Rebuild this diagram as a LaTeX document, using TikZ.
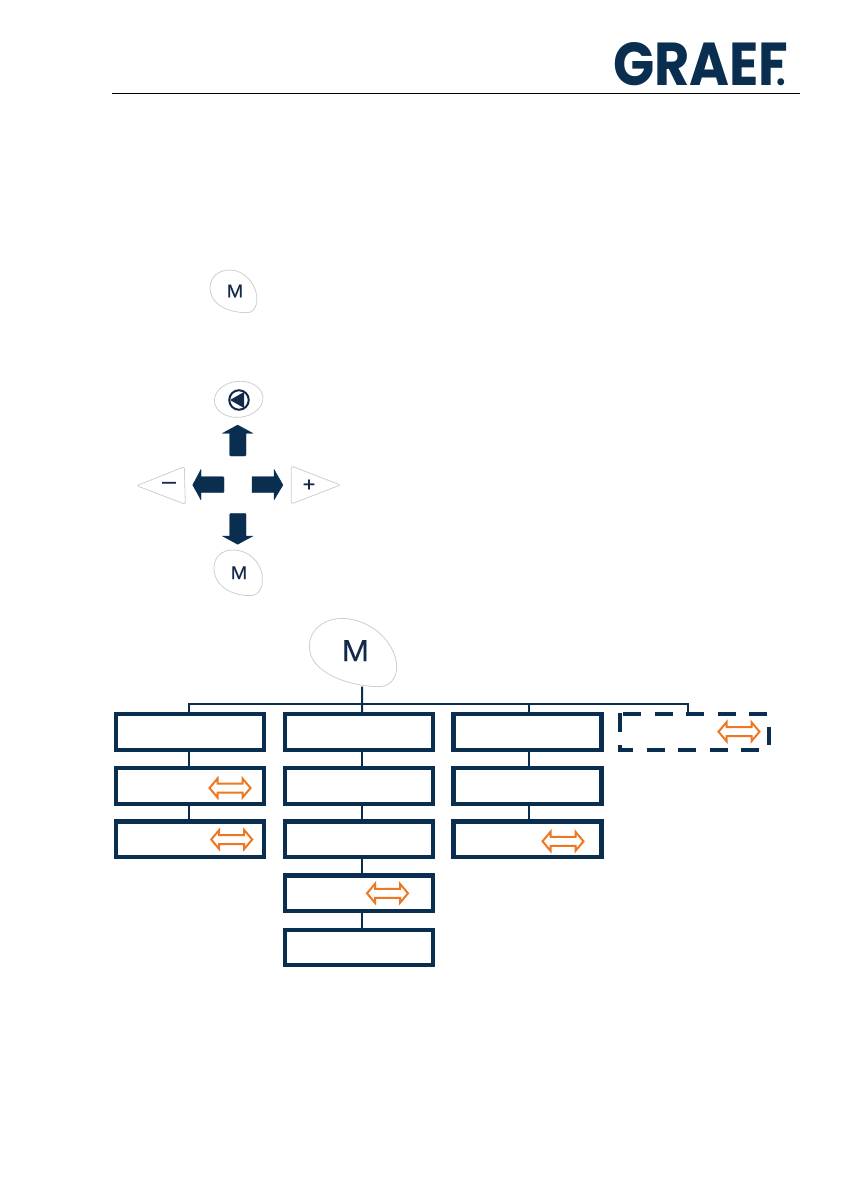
\documentclass[tikz,border=0pt]{standalone}
\usepackage{fontspec}
\setmainfont{Liberation Sans}
\newfontfamily\logofont{Poppins}
\newfontfamily\keyfont[FakeBold=0.25,FakeStretch=1.08]{Liberation Sans}
\usetikzlibrary{calc}
\definecolor{navy}{HTML}{0A2E50}
\definecolor{inkM}{HTML}{12294A}
\definecolor{keygrey}{HTML}{CFCFCF}
\definecolor{arrorange}{HTML}{F07722}
\tikzset{
  menubox/.style={draw=navy,line width=4.2pt,rectangle,minimum width=148pt,minimum height=35.5pt,inner sep=0pt,fill=white},
  dashframe/.style={rectangle,minimum width=148pt,minimum height=36pt,inner sep=0pt,outer sep=2pt},
  dashline/.style={draw=navy,line width=4pt},
  link/.style={draw=navy,line width=2pt},
  keyline/.style={draw=keygrey,line width=.8pt,fill=white},
  keytext/.style={text=inkM,inner sep=0pt,font=\keyfont\fontsize{18.5}{20}\selectfont},
  navarrow/.style={fill=navy,draw=navy,line width=.3pt,line join=round},
  swap/.style={draw=arrorange,fill=white,line width=2pt,line join=miter},
  zoomA/.style={shift={(120,260)},x=.33333pt,y=-.33333pt},
  zoomB/.style={shift={(100,610)},x=.33333pt,y=-.33333pt},
  swaparrow/.pic={\draw[swap] (-20.5,0)--(-12.5,-9.5)--(-12.5,-4.5)--(12.5,-4.5)--(12.5,-9.5)--(20.5,0)--(12.5,9.5)--(12.5,4.5)--(-12.5,4.5)--(-12.5,9.5)--cycle;}
}
\begin{document}
\begin{tikzpicture}[x=1pt,y=-1pt]
\useasboundingbox (0,0) rectangle (840,1190);
% header
\node[inner sep=0pt,text=navy] (logo) at (699.5,64.5) {\resizebox{173pt}{43pt}{\logofont\bfseries GRAEF\kern-.22em\scalebox{.62}{.}}};
\coordinate (ruleL) at (112,93.5);
\coordinate (ruleR) at (800,93.5);
\draw[black,line width=1pt] (ruleL) -- (ruleR);
% M key
\begin{scope}[zoomA]
\draw[keyline] (330,30) .. controls (372,30) and (405,70) .. (410,105) -- (410,130) .. controls (405,150) and (395,158) .. (380,158) .. controls (320,158) and (270,130) .. (270,85) .. controls (270,50) and (295,30) .. (330,30) -- cycle;
\node[keytext] (keyM1) at (345,93) {M};
% back key
\draw[keyline,rotate around={6:(356,418)}] (356,418) ellipse [x radius=73,y radius=54];
\node[circle,draw=inkM,line width=2pt,minimum size=19.5pt,inner sep=0pt] (keyBack) at (357,420) {};
\fill[inkM] (330,420) -- (372,396) -- (372,444) -- cycle;
% minus / plus keys
\draw[keyline,rounded corners=2pt] (50,677) -- (193,620) -- (196,733) -- cycle;
\node[keytext,font=\keyfont\fontsize{23}{24}\selectfont] (keyMinus) at (147,676) {–};
\draw[keyline,rounded corners=2pt] (514,618) -- (661,675) -- (514,732) -- cycle;
\node[keytext,font=\keyfont\fontsize{20}{20}\selectfont] (keyPlus) at (567,676) {+};
% second M key
\draw[keyline] (340,870) .. controls (385,870) and (420,905) .. (427,945) -- (427,970) .. controls (422,995) and (410,1007) .. (392,1007) .. controls (330,1007) and (282,975) .. (282,925) .. controls (282,890) and (305,870) .. (340,870) -- cycle;
\node[keytext] (keyM2) at (357,938) {M};
% navigation arrows
\draw[navarrow] (353,495) -- (399,520) -- (378,520) -- (378,585) -- (375,588) -- (332,588) -- (329,585) -- (329,520) -- (307,520) -- cycle;
\draw[navarrow] (353,853) -- (399,828) -- (378,828) -- (378,763) -- (375,760) -- (332,760) -- (329,763) -- (329,828) -- (307,828) -- cycle;
\draw[navarrow] (218,675) -- (243,628) -- (243,650) -- (309,650) -- (312,653) -- (312,695) -- (309,698) -- (243,698) -- (243,720) -- cycle;
\draw[navarrow] (489,675) -- (462,628) -- (462,650) -- (396,650) -- (396,698) -- (462,698) -- (462,720) -- cycle;
\end{scope}
% big M key
\begin{scope}[zoomB]
\draw[keyline,fill=white] (730,25) .. controls (820,30) and (885,100) .. (890,165) .. controls (892,205) and (870,232) .. (830,230) .. controls (750,228) and (628,190) .. (628,110) .. controls (628,60) and (670,25) .. (730,25) -- cycle;
\node[keytext,font=\keyfont\fontsize{30.5}{32}\selectfont] (bigM) at (766,122) {M};
\coordinate (mBottom) at (786,230);
\end{scope}
% menu boxes
\node[menubox] (a1) at (190,732) {};
\node[menubox] (a2) at (190,786) {};
\node[menubox] (a3) at (190,839.3) {};
\node[menubox] (b1) at (359,732) {};
\node[menubox] (b2) at (359,786) {};
\node[menubox] (b3) at (359,839.3) {};
\node[menubox] (b4) at (359,893.3) {};
\node[menubox] (b5) at (359,947.5) {};
\node[menubox] (c1) at (527.5,732) {};
\node[menubox] (c2) at (527.5,786) {};
\node[menubox] (c3) at (527.5,839.3) {};
\node[dashframe] (d1) at (694,732) {};
% dashed frame: four separate strokes
\draw[dashline,dash pattern=on 18pt off 13.6pt] ($(d1.north west)+(5,2)$) -- ($(d1.north east)+(-1,2)$);
\draw[dashline,dash pattern=on 18pt off 13.6pt,dash phase=3pt] ($(d1.south west)+(0,-2)$) -- ($(d1.south east)+(-8,-2)$);
\draw[dashline,dash pattern=on 19pt off 13pt] ($(d1.north west)+(2,1)$) -- ($(d1.south west)+(2,0)$);
\draw[dashline] ($(d1.north east)+(-1,15)$) -- ($(d1.north east)+(-1,33)$);
% connectors
\coordinate (busA) at (189,704);
\coordinate (busB) at (362,704);
\coordinate (busC) at (529,704);
\coordinate (busD) at (688,704);
\draw[link] (a1.north -| busA) -- (busA) -- (busD) -- (d1.north -| busD);
\draw[link] (mBottom) -- (b1.north -| busB);
\draw[link] (busC) -- (c1.north -| busC);
\draw[link] (a1.south -| busA) -- (a2.north -| busA);
\draw[link] (a2.south -| busA) -- (a3.north -| busA);
\draw[link] (b1.south -| busB) -- (b2.north -| busB);
\draw[link] (b2.south -| busB) -- (b3.north -| busB);
\draw[link] (b3.south -| busB) -- (b4.north -| busB);
\draw[link] (b4.south -| busB) -- (b5.north -| busB);
\draw[link] (c1.south -| busC) -- (c2.north -| busC);
\draw[link] (c2.south -| busC) -- (c3.north -| busC);
% swap arrows
\pic at (230,788) {swaparrow};
\pic at (231.7,839.5) {swaparrow};
\pic at (387.5,893.3) {swaparrow};
\pic at (563,841.3) {swaparrow};
\pic at (739,731.7) {swaparrow};
\end{tikzpicture}
\end{document}
